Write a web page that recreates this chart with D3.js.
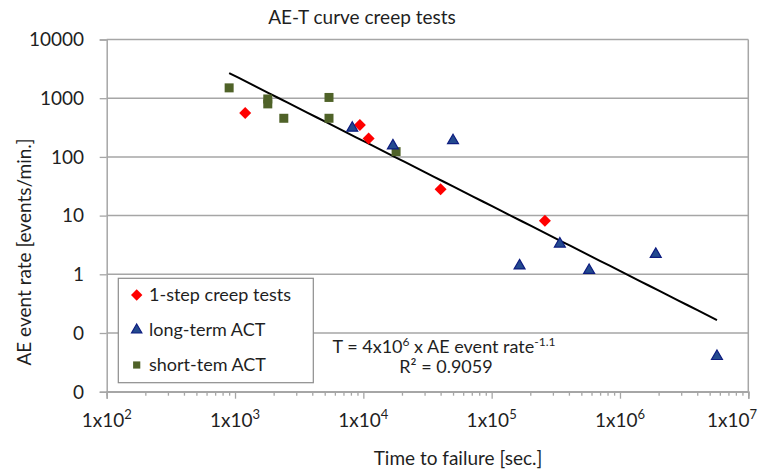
<!DOCTYPE html>
<html>
<head>
<meta charset="utf-8">
<script src="https://cdn.jsdelivr.net/npm/d3@7"></script>
<style>
  html, body { margin: 0; padding: 0; background: #fff; }
  svg { display: block; font-family: Lato, "Open Sans", sans-serif; }
</style>
</head>
<body>
<div id="chart"></div>
<script>
// ---- data ----
const creepX = [1200, 9400, 11000, 40000, 260000];
const creepY = [560, 350, 205, 28, 8.2];

const longX = [8200, 17000, 50000, 165000, 340000, 575000, 1900000, 5700000];
const longY = [310, 155, 190, 1.4, 3.3, 1.17, 2.2, 0.04];

const shortX = [900, 1800, 1800, 2400, 5400, 5400, 18000];
const shortY = [1500, 970, 800, 455, 1030, 455, 123];

// power trend line: y = trendA * x^trendB
const trendA = 5.0e6;
const trendB = -1.107;

const xTickValues = [1e2, 1e3, 1e4, 1e5, 1e6, 1e7];
const xTickExponents = ["2", "3", "4", "5", "6", "7"];
const yTickValues = [1e4, 1e3, 1e2, 1e1, 1, 0.1, 0.01];
const yTickLabels = ["10000", "1000", "100", "10", "1", "0", "0"];

const seriesNames = ["1-step creep tests", "long-term ACT", "short-tem ACT"];

// ---- layout ----
const W = 760, H = 471;
const margin = {top: 39.5, right: 11.7, bottom: 79.3, left: 106.7};

const svg = d3.select("#chart").append("svg")
  .attr("width", W).attr("height", H);

const x = d3.scaleLog().domain([1e2, 1e7]).range([margin.left, W - margin.right]);
const y = d3.scaleLog().domain([0.01, 1e4]).range([H - margin.bottom, margin.top]);

const gridColor = "#a6a6a6";
const textColor = "#1f1f1f";

// gridlines
svg.append("g").selectAll("line").data(yTickValues).join("line")
  .attr("x1", x.range()[0]).attr("x2", x.range()[1])
  .attr("y1", d => y(d)).attr("y2", d => y(d))
  .attr("stroke", gridColor).attr("stroke-width", 1.5);

// plot border (right side)
svg.append("line")
  .attr("x1", x.range()[1]).attr("x2", x.range()[1])
  .attr("y1", y.range()[0]).attr("y2", y.range()[1])
  .attr("stroke", gridColor).attr("stroke-width", 1.5);

// x axis: major + minor ticks
const minorX = [];
for (let e = 2; e < 7; e++) for (let m = 2; m <= 9; m++) minorX.push(m * Math.pow(10, e));

const xAxisMajor = svg.append("g")
  .attr("transform", `translate(0,${y.range()[0]})`)
  .call(d3.axisBottom(x).tickValues(xTickValues).tickSize(7).tickFormat(""));
const xAxisMinor = svg.append("g")
  .attr("transform", `translate(0,${y.range()[0]})`)
  .call(d3.axisBottom(x).tickValues(minorX).tickSize(4).tickFormat(""));
[xAxisMajor, xAxisMinor].forEach(g => {
  g.select(".domain").attr("stroke", gridColor).attr("stroke-width", 1.5);
  g.selectAll(".tick line").attr("stroke", gridColor).attr("stroke-width", 1.3);
});

// x tick labels with superscripts
const xl = svg.append("g").selectAll("text").data(xTickValues).join("text")
  .attr("x", d => x(d)).attr("y", 427)
  .attr("text-anchor", "middle")
  .attr("font-size", 19).attr("fill", textColor);
xl.append("tspan").text("1x10");
xl.append("tspan").attr("font-size", 13).attr("dy", -8).text((d, i) => xTickExponents[i]);
// keep labels inside the picture (like the original, the last one shifts left)
xl.each(function(d) {
  const w = this.getComputedTextLength();
  const cx = x(d);
  if (cx + w / 2 > W - 3) {
    d3.select(this).attr("text-anchor", "end").attr("x", W - 3);
  }
});

// y axis
const yAxis = svg.append("g")
  .attr("transform", `translate(${x.range()[0]},0)`)
  .call(d3.axisLeft(y).tickValues(yTickValues).tickSize(7).tickFormat(""));
yAxis.select(".domain").attr("stroke", gridColor).attr("stroke-width", 1.5);
yAxis.selectAll(".tick line").attr("stroke", gridColor).attr("stroke-width", 1.3);

svg.append("g").selectAll("text").data(yTickValues).join("text")
  .attr("x", 84).attr("y", d => y(d)).attr("dy", "0.36em")
  .attr("text-anchor", "end").attr("font-size", 19).attr("fill", textColor)
  .text((d, i) => yTickLabels[i]);

// titles
svg.append("text").attr("x", 362).attr("y", 24).attr("text-anchor", "middle")
  .attr("font-size", 19).attr("fill", textColor).text("AE-T curve creep tests");
svg.append("text").attr("x", 458).attr("y", 465).attr("text-anchor", "middle")
  .attr("font-size", 19).attr("fill", textColor).text("Time to failure [sec.]");
svg.append("text").attr("transform", "translate(31,252) rotate(-90)")
  .attr("text-anchor", "middle")
  .attr("font-size", 19).attr("fill", textColor).text("AE event rate [events/min.]");

// trend line
const allX = creepX.concat(longX, shortX);
const [xmin, xmax] = d3.extent(allX);
const trendPts = d3.range(0, 51).map(i => {
  const lx = Math.log10(xmin) + (Math.log10(xmax) - Math.log10(xmin)) * i / 50;
  const xv = Math.pow(10, lx);
  return [xv, trendA * Math.pow(xv, trendB)];
});
svg.append("path")
  .attr("d", d3.line().x(d => x(d[0])).y(d => y(d[1]))(trendPts))
  .attr("fill", "none").attr("stroke", "#000").attr("stroke-width", 2);

// markers
const diamond = d3.symbol().type(d3.symbolSquare).size(72)();
const square = d3.symbol().type(d3.symbolSquare).size(81)();
const triangle = d3.symbol().type(d3.symbolTriangle).size(52)();

const styles = [
  {path: diamond, rot: 45, fill: "#ff0000", stroke: "none"},
  {path: triangle, rot: 0, fill: "#234a8e", stroke: "#0d1c80"},
  {path: square, rot: 0, fill: "#4f6228", stroke: "none"}
];

function drawSeries(xs, ys, st) {
  svg.append("g").selectAll("path").data(xs.map((d, i) => [d, ys[i]])).join("path")
    .attr("d", st.path)
    .attr("transform", d => `translate(${x(d[0])},${y(d[1])}) rotate(${st.rot})`)
    .attr("fill", st.fill).attr("stroke", st.stroke).attr("stroke-width", 1.2);
}
drawSeries(shortX, shortY, styles[2]);
drawSeries(creepX, creepY, styles[0]);
drawSeries(longX, longY, styles[1]);

// legend
const lg = svg.append("g");
lg.append("rect").attr("x", 118.3).attr("y", 278.3).attr("width", 195).attr("height", 104.4)
  .attr("fill", "#fff").attr("stroke", "#8c8c8c").attr("stroke-width", 1.2);
const legendY = [295, 330, 365];
seriesNames.forEach((name, i) => {
  const st = styles[i];
  const sz = i === 2 ? 0.8 : 0.95;
  lg.append("path").attr("d", st.path)
    .attr("transform", `translate(136.7,${legendY[i]}) rotate(${st.rot}) scale(${sz})`)
    .attr("fill", st.fill).attr("stroke", st.stroke).attr("stroke-width", 1.2);
  lg.append("text").attr("x", 149).attr("y", legendY[i]).attr("dy", "0.36em")
    .attr("font-size", 18).attr("fill", textColor).text(name);
});

// equation
const eq = svg.append("text").attr("x", 444).attr("y", 353).attr("text-anchor", "middle")
  .attr("font-size", 18).attr("fill", textColor);
eq.append("tspan").text("T = 4x10");
eq.append("tspan").attr("font-size", 12).attr("dy", -7).text("6");
eq.append("tspan").attr("dy", 7).text(" x AE event rate");
eq.append("tspan").attr("font-size", 12).attr("dy", -7).text("-1.1");
svg.append("text").attr("x", 446).attr("y", 373).attr("text-anchor", "middle")
  .attr("font-size", 18).attr("fill", textColor).text("R² = 0.9059");
</script>
</body>
</html>
